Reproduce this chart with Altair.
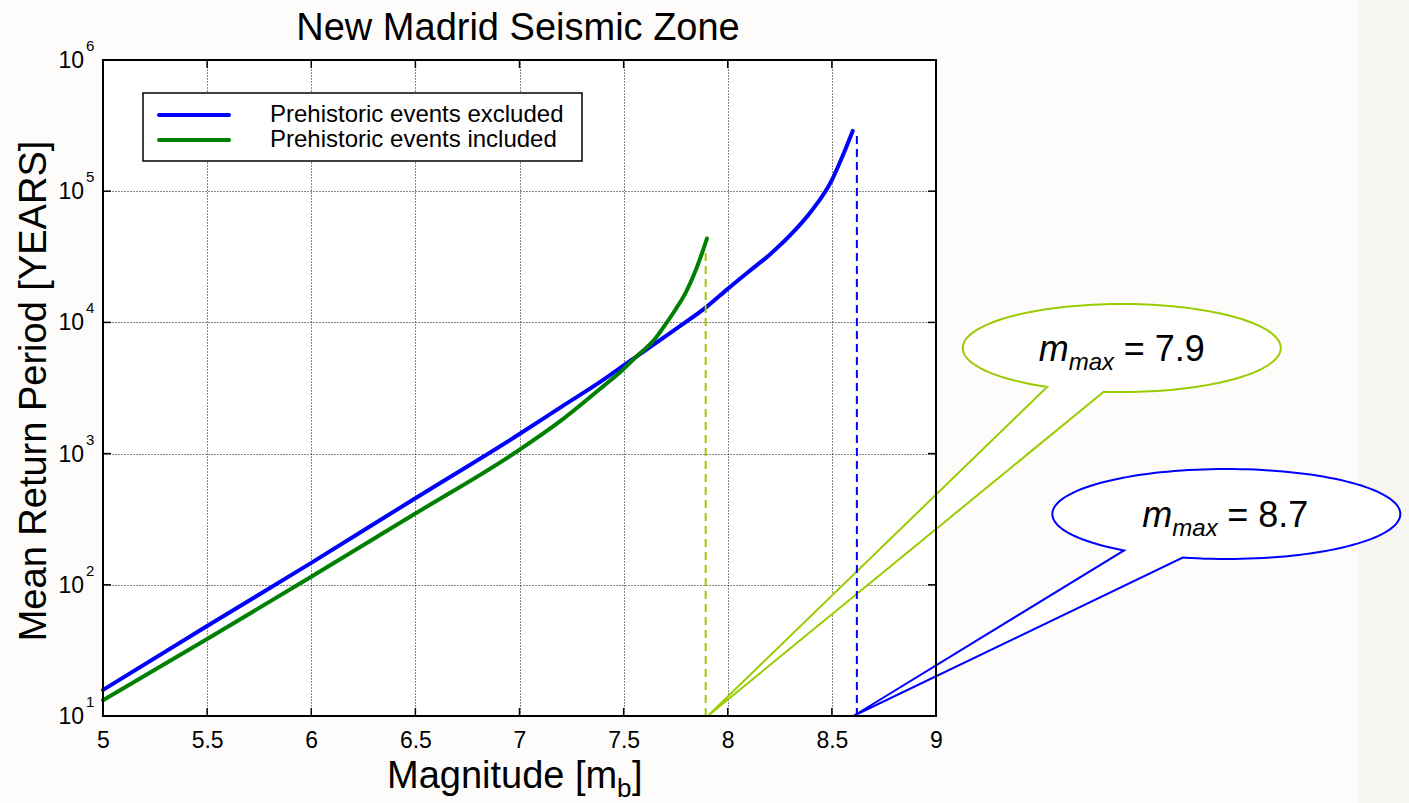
import altair as alt
import pandas as pd
import numpy as np

# ---------------- data ----------------
series_names = ["Prehistoric events excluded", "Prehistoric events included"]
series_colors = ["#0000FF", "#008000"]

mag_excl = [5.0, 5.5, 6.0, 6.5, 7.0, 7.21, 7.4, 7.5, 7.56, 7.75, 7.9, 8.0, 8.1, 8.2, 8.3, 8.4, 8.5, 8.55, 8.6]
T_excl = [15.8, 48.5, 147, 457, 1410, 2320, 3630, 4700, 5470, 8900, 13200, 18000, 24300, 32700, 46200,
          70000, 121600, 183000, 288000]

mag_incl = [5.0, 5.5, 6.0, 6.5, 7.0, 7.21, 7.4, 7.5, 7.56, 7.65, 7.7, 7.75, 7.8, 7.85, 7.88, 7.9]
T_incl = [13.2, 38.6, 115, 349, 1070, 1840, 3240, 4420, 5470, 7470, 9600, 12600, 17100, 25900, 35000, 43600]

x_ticks = [5, 5.5, 6, 6.5, 7, 7.5, 8, 8.5, 9]
decades = [1, 2, 3, 4, 5, 6]

mmax_labels = ["= 7.9", "= 8.7"]
mmax_line_x = [7.894, 8.62]
mmax_line_top = [34000, 270000]
mmax_tip_x = [7.904, 8.603]
callout_colors = ["#99CC00", "#0000FF"]

# ---------------- layout constants ----------------
W, H = 833, 656
FONT = "Liberation Sans"
GRID_COLOR = "#111111"

xs = alt.Scale(domain=[5, 9])
ys = alt.Scale(type="log", domain=[10, 1e6])

X_AX = alt.Axis(values=x_ticks, format="~g", grid=True, gridDash=[1, 2], gridColor=GRID_COLOR,
                gridWidth=1, ticks=False, tickSize=0, domain=False, labelFontSize=23,
                labelPadding=13, labelFont=FONT, labelColor="black", labelFlush=False, title=None)
Y_AX = alt.Axis(values=[10 ** k for k in decades], grid=True, gridDash=[1, 2], gridColor=GRID_COLOR,
                gridWidth=1, ticks=False, tickSize=0, domain=False, labels=False, title=None)


def X(field):
    return alt.X(field, type="quantitative", scale=xs, axis=X_AX)


def Y(field):
    return alt.Y(field, type="quantitative", scale=ys, axis=Y_AX)


curves = pd.concat([
    pd.DataFrame({"mag": mag_excl, "T": T_excl, "series": series_names[0]}),
    pd.DataFrame({"mag": mag_incl, "T": T_incl, "series": series_names[1]}),
])
color_scale = alt.Scale(domain=series_names, range=series_colors)

one = pd.DataFrame({"a": [0]})

# right-hand background strip
panel = alt.Chart(one).mark_rect(color="#F7F5F1").encode(
    x=alt.value(1256), x2=alt.value(1306), y=alt.value(-60), y2=alt.value(743))


# speech-bubble callouts (shape drawn relative to the tip, units of R px)
def bubble_path(cx, cy, rx, ry, ta, tb, R=100.0):
    ts = np.radians(np.linspace(ta, tb + 360, 140))
    pts = [(cx + rx * np.cos(t), cy + ry * np.sin(t)) for t in ts]
    return "M0,0 " + " ".join(f"L{px / R:.4f},{py / R:.4f}" for px, py in pts) + " Z"


callout_df = pd.DataFrame({
    "tip": mmax_tip_x,
    "T": [10, 10],
    "path": [bubble_path(414, -368, 159, 44, 118, 96.5), bubble_path(373, -202, 174, 45, 126, 104.5)],
    "col": callout_colors,
})
callouts = alt.Chart(callout_df).mark_point(size=40000, filled=True, fill="#FFFFFF", fillOpacity=1,
                                            strokeWidth=2, opacity=1, strokeOpacity=1).encode(
    x=X("tip"), y=Y("T"),
    shape=alt.Shape("path:N", scale=None),
    stroke=alt.Stroke("col:N", scale=None))

# callout texts
text_layers = []
offsets = [  # (dx_m, dy_m, dx_sub, dy_sub, dx_eq, dy_eq)
    (331, -355, 361, -346, 416, -355),
    (289, -189, 319, -180, 374, -189),
]
for i in range(2):
    d = pd.DataFrame({"tip": [mmax_tip_x[i]], "T": [10], "eq": [mmax_labels[i]]})
    o = offsets[i]
    base = alt.Chart(d)
    text_layers.append(base.mark_text(text="m", font=FONT, fontSize=36, fontStyle="italic", align="left",
                                      baseline="alphabetic", dx=o[0], dy=o[1], color="black")
                       .encode(x=X("tip"), y=Y("T")))
    text_layers.append(base.mark_text(text="max", font=FONT, fontSize=24, fontStyle="italic", align="left",
                                      baseline="alphabetic", dx=o[2], dy=o[3], color="black")
                       .encode(x=X("tip"), y=Y("T")))
    text_layers.append(base.mark_text(font=FONT, fontSize=36, align="left",
                                      baseline="alphabetic", dx=o[4], dy=o[5], color="black")
                       .encode(x=X("tip"), y=Y("T"), text="eq:N"))

# dashed m_max lines
dash_df = pd.DataFrame({"xv": mmax_line_x, "lo": [10, 10], "hi": mmax_line_top, "col": callout_colors})
dashes = alt.Chart(dash_df).mark_rule(strokeWidth=2, strokeDash=[8, 5]).encode(
    x=X("xv"), y=Y("lo"), y2="hi:Q", color=alt.Color("col:N", scale=None))

# curves
lines = alt.Chart(curves).mark_line(strokeWidth=4, strokeCap="round", strokeJoin="round",
                                    interpolate="monotone").encode(
    x=X("mag"), y=Y("T"), color=alt.Color("series:N", scale=color_scale, legend=None),
    order="mag:Q")

# frame
frame_df = pd.DataFrame({"x0": [5], "x1": [9], "y0": [10], "y1": [1e6]})
frame = alt.Chart(frame_df).mark_rect(fillOpacity=0, stroke="black", strokeWidth=2).encode(
    x=X("x0"), x2="x1:Q", y=Y("y0"), y2="y1:Q")

# inward ticks
xt = pd.DataFrame({"v": x_ticks[1:-1]})
yt = pd.DataFrame({"v": [10 ** k for k in decades[1:-1]]})
tick_style = dict(strokeWidth=1.5, color="black")
ticks = [
    alt.Chart(xt).mark_rule(**tick_style).encode(x=X("v"), y=alt.value(H), y2=alt.value(H - 8)),
    alt.Chart(xt).mark_rule(**tick_style).encode(x=X("v"), y=alt.value(0), y2=alt.value(8)),
    alt.Chart(yt).mark_rule(**tick_style).encode(y=Y("v"), x=alt.value(0), x2=alt.value(8)),
    alt.Chart(yt).mark_rule(**tick_style).encode(y=Y("v"), x=alt.value(W - 8), x2=alt.value(W)),
]

# y tick labels 10^k
ylab = pd.DataFrame({"x0": [5] * len(decades), "T": [10 ** k for k in decades], "e": [str(k) for k in decades]})
ylab_base = alt.Chart(ylab).mark_text(text="10", font=FONT, fontSize=23, align="right", baseline="alphabetic",
                                      dx=-19, dy=8, color="black").encode(x=X("x0"), y=Y("T"))
ylab_exp = alt.Chart(ylab).mark_text(font=FONT, fontSize=15, align="left", baseline="alphabetic",
                                     dx=-17, dy=-9, color="black").encode(x=X("x0"), y=Y("T"), text="e:N")

# manual legend
leg_df = pd.DataFrame({"series": series_names, "ly": [55, 80]})
leg_box = alt.Chart(one).mark_rect(fill="white", stroke="black", strokeWidth=1.5).encode(
    x=alt.value(40), x2=alt.value(479), y=alt.value(33), y2=alt.value(101))
leg_lines = alt.Chart(leg_df).mark_rule(strokeWidth=4, strokeCap="round").encode(
    x=alt.value(56), x2=alt.value(126), y=alt.Y("ly:Q", scale=None),
    color=alt.Color("series:N", scale=color_scale, legend=None))
leg_text = alt.Chart(leg_df).mark_text(font=FONT, fontSize=24, align="left", baseline="middle",
                                       color="black").encode(
    x=alt.value(167), y=alt.Y("ly:Q", scale=None), text="series:N")

# titles
title = alt.Chart(one).mark_text(text="New Madrid Seismic Zone", font=FONT, fontSize=38, align="center",
                                 baseline="alphabetic", color="black").encode(
    x=alt.value(415), y=alt.value(-20))
ytitle = alt.Chart(one).mark_text(text="Mean Return Period [YEARS]", font=FONT, fontSize=38, align="center",
                                  baseline="alphabetic", angle=270, color="black").encode(
    x=alt.value(-57), y=alt.value(331))
xt1 = alt.Chart(one).mark_text(text="Magnitude [m", font=FONT, fontSize=38, align="left",
                               baseline="alphabetic", color="black").encode(x=alt.value(284), y=alt.value(728))
xt2 = alt.Chart(one).mark_text(text="b", font=FONT, fontSize=26, align="left",
                               baseline="alphabetic", color="black").encode(x=alt.value(514), y=alt.value(737))
xt3 = alt.Chart(one).mark_text(text="]", font=FONT, fontSize=38, align="left",
                               baseline="alphabetic", color="black").encode(x=alt.value(529), y=alt.value(728))

chart = alt.layer(
    lines, panel, callouts, dashes, *ticks, frame, ylab_base, ylab_exp,
    leg_box, leg_lines, leg_text, *text_layers, title, ytitle, xt1, xt2, xt3,
).properties(
    width=W, height=H,
    padding={"left": 103, "top": 60, "right": 473, "bottom": 87},
    autosize=alt.AutoSizeParams(type="none"),
    background="#FDFCFA",
).configure_view(fill="#FFFFFF", strokeWidth=0)

chart.save("out.html", embed_options={"renderer": "svg", "actions": False})
